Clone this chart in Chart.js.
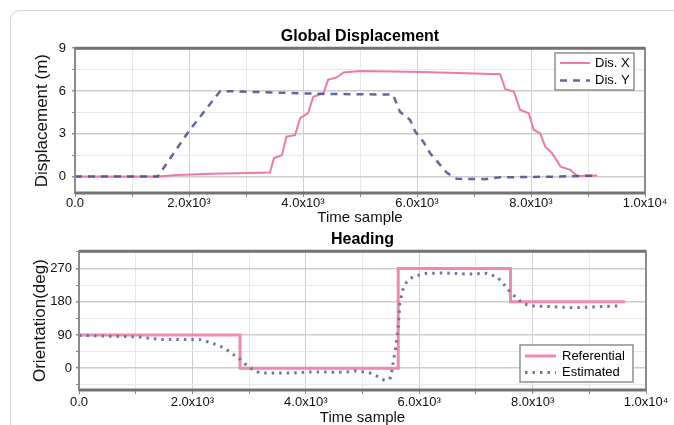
<!DOCTYPE html>
<html>
<head>
<meta charset="utf-8">
<script src="https://cdn.jsdelivr.net/npm/chart.js@4.4.0/dist/chart.umd.min.js"></script>
<style>
  html, body { margin: 0; padding: 0; background: #fff; overflow: hidden; }
  body { width: 674px; height: 425px; position: relative; }
  .card { position: absolute; left: 10px; top: 10px; width: 720px; height: 480px; border: 1px solid #d4d4d4; border-radius: 10px; }
  .plot { position: absolute; left: 0; width: 674px; }
</style>
</head>
<body>
<div class="card"></div>
<div class="plot" style="top:0;height:232px"><canvas id="dispChart"></canvas></div>
<div class="plot" style="top:225px;height:210px"><canvas id="headChart"></canvas></div>
<script>
const FONT = "'Liberation Sans', Arial, sans-serif";
Chart.defaults.font.family = FONT;
Chart.defaults.color = "#111";

// x axis: time samples
const xTicks = [0, 1000, 2000, 3000, 4000, 5000, 6000, 7000, 8000, 9000, 10000];
const xLabelValues = [0, 2000, 4000, 6000, 8000, 10000];
const xLabelText = ["0.0", "2.0x10³", "4.0x10³", "6.0x10³", "8.0x10³", "1.0x10⁴"];

// global displacement
const dispTicks = [0, 1.5, 3, 4.5, 6, 7.5, 9];
const dispLabels = [0, 3, 6, 9];
const disXTime = [0, 1450, 1800, 2400, 3000, 3420, 3490, 3630, 3710, 3860, 3950, 4090, 4180, 4360, 4440, 4590, 4710, 5000, 6100, 7460, 7550, 7700, 7810, 7960, 8050, 8160, 8250, 8370, 8520, 8690, 8810, 9160];
const disXValue = [0, 0, 0.12, 0.2, 0.25, 0.28, 1.3, 1.5, 2.8, 2.9, 4.1, 4.45, 5.6, 5.85, 6.78, 6.95, 7.3, 7.4, 7.33, 7.18, 6.12, 5.96, 4.67, 4.44, 3.27, 3.04, 2.1, 1.64, 0.7, 0.47, 0.05, 0.07];
const disYTime = [0, 1450, 2000, 2550, 3000, 4300, 5580, 5640, 5700, 5880, 5970, 6110, 6230, 6380, 6520, 6700, 7200, 7460, 8450, 9100];
const disYValue = [0, 0, 3.2, 6.0, 5.95, 5.8, 5.75, 5.14, 4.55, 3.97, 3.15, 2.45, 1.64, 0.94, 0.28, -0.16, -0.18, -0.05, 0, 0.07];

// heading
const headTicks = [-45, 0, 45, 90, 135, 180, 225, 270, 315];
const headLabels = [0, 90, 180, 270];
const refTime = [0, 2840, 2840, 5630, 5630, 7610, 7610, 9630];
const refValue = [90, 90, 0, 0, 270, 270, 180, 180];
const estTime = [0, 1020, 1430, 2130, 2310, 2490, 2600, 2690, 2810, 2900, 2990, 3070, 3190, 3780, 4070, 4660, 4900, 5130, 5250, 5400, 5500, 5540, 5590, 5630, 5660, 5710, 5780, 5900, 6130, 6490, 6840, 7190, 7370, 7480, 7600, 7720, 7840, 8010, 8720, 9570];
const estValue = [89, 85, 78, 78, 70, 60, 51, 40, 29, 15, 4.5, -4.5, -13, -13, -10, -11, -7, -13, -21, -34, -25, 15, 60, 113, 176, 212, 234, 249, 257, 258, 255, 257, 248, 230, 207, 190, 174, 169, 164, 169];

const pts = (xs, ys) => xs.map((x, i) => ({ x: x, y: ys[i] }));

// frame round the plot area
const plotFrame = {
  id: "plotFrame",
  afterDatasetsDraw(chart) {
    const { ctx, chartArea: a } = chart;
    ctx.save();
    ctx.strokeStyle = "#8c8c8c";
    ctx.lineWidth = 2;
    ctx.strokeRect(a.left, a.top, a.right - a.left, a.bottom - a.top);
    ctx.strokeStyle = "#737373";
    ctx.lineWidth = 3;
    ctx.beginPath();
    ctx.moveTo(a.left, a.top); ctx.lineTo(a.right, a.top);
    ctx.moveTo(a.left, a.bottom); ctx.lineTo(a.right, a.bottom);
    ctx.stroke();
    ctx.restore();
  }
};

// boxed legend inside the plot
const boxLegend = {
  id: "boxLegend",
  afterDatasetsDraw(chart, args, o) {
    const ctx = chart.ctx;
    ctx.save();
    ctx.fillStyle = "#fff";
    ctx.fillRect(o.x, o.y, o.w, o.h);
    ctx.strokeStyle = "#8f8f8f";
    ctx.lineWidth = 1.5;
    ctx.strokeRect(o.x, o.y, o.w, o.h);
    chart.data.datasets.forEach((ds, i) => {
      const y = o.y + o.first + i * o.gap;
      ctx.strokeStyle = ds.borderColor;
      ctx.lineWidth = ds.borderWidth;
      ctx.setLineDash(ds.borderDash || []);
      ctx.beginPath();
      ctx.moveTo(o.x + 5, y);
      ctx.lineTo(o.x + 5 + o.sample, y);
      ctx.stroke();
      ctx.setLineDash([]);
      ctx.fillStyle = "#000";
      ctx.font = "13px " + FONT;
      ctx.textBaseline = "middle";
      ctx.fillText(ds.label, o.x + o.textX, y);
    });
    ctx.restore();
  }
};

function makeScales(cfg) {
  return {
    x: {
      type: "linear",
      min: 0,
      max: 10000,
      afterBuildTicks: (a) => { a.ticks = xTicks.map((v) => ({ value: v })); },
      afterFit: (a) => { a.height = cfg.xHeight; },
      border: { display: false },
      grid: {
        color: (c) => (c.tick && c.tick.value % 2000 === 0 ? "#cfcfcf" : "#e8e8e8"),
        tickLength: 4,
        tickColor: "#8a8a8a"
      },
      ticks: {
        autoSkip: false,
        maxRotation: 0,
        padding: cfg.xTickPad,
        color: "#111",
        font: { size: 13 },
        callback: (v) => {
          const i = xLabelValues.indexOf(v);
          return i < 0 ? "" : xLabelText[i];
        }
      },
      title: { display: true, text: "Time sample", color: "#111", font: { size: 15 }, padding: { top: 0, bottom: cfg.xTitlePad } }
    },
    y: {
      type: "linear",
      min: cfg.yMin,
      max: cfg.yMax,
      afterBuildTicks: (a) => { a.ticks = cfg.yTicks.map((v) => ({ value: v })); },
      afterFit: (a) => { a.width = cfg.yWidth; },
      border: { display: false },
      grid: {
        color: (c) => (c.tick && cfg.yLabels.includes(c.tick.value) ? "#cdcdcd" : "#e8e8e8"),
        lineWidth: (c) => (c.tick && cfg.yLabels.includes(c.tick.value) ? 1.5 : 1),
        tickLength: 3,
        tickColor: "#8a8a8a"
      },
      ticks: {
        autoSkip: false,
        padding: cfg.yTickPad,
        color: "#111",
        font: { size: 13 },
        callback: (v) => (cfg.yLabels.includes(v) ? String(v) : "")
      },
      title: { display: true, text: cfg.yTitle, color: "#111", font: { size: 17 }, padding: { top: cfg.yTitlePad, bottom: 0 } }
    }
  };
}

new Chart(document.getElementById("dispChart"), {
  type: "line",
  data: {
    datasets: [
      {
        label: "Dis. X",
        data: pts(disXTime, disXValue),
        borderColor: "#ee7aa2",
        borderWidth: 2,
        pointRadius: 0,
        order: 2
      },
      {
        label: "Dis. Y",
        data: pts(disYTime, disYValue),
        borderColor: "rgba(70,76,140,0.85)",
        borderWidth: 2.5,
        borderDash: [7, 6],
        pointRadius: 0,
        order: 1
      }
    ]
  },
  options: {
    responsive: true,
    maintainAspectRatio: false,
    animation: false,
    layout: { padding: { left: 0, right: 29, top: 0, bottom: 0 } },
    scales: makeScales({
      yMin: -1.15, yMax: 9, yTicks: dispTicks, yLabels: dispLabels,
      yTitle: "Displacement (m)", yWidth: 75, yTickPad: 6, yTitlePad: 32,
      xHeight: 39, xTickPad: -1, xTitlePad: 5
    }),
    plugins: {
      legend: { display: false },
      tooltip: { enabled: false },
      title: { display: true, fullSize: false, text: "Global Displacement", color: "#000", font: { size: 16, weight: "bold" }, padding: { top: 27, bottom: 2 } },
      boxLegend: { x: 555, y: 53, w: 79, h: 37, first: 10, gap: 17.5, sample: 30, textX: 40 }
    }
  },
  plugins: [plotFrame, boxLegend]
});

new Chart(document.getElementById("headChart"), {
  type: "line",
  data: {
    datasets: [
      {
        label: "Referential",
        data: pts(refTime, refValue),
        borderColor: "#f288ae",
        borderWidth: 3,
        pointRadius: 0,
        order: 2
      },
      {
        label: "Estimated",
        data: pts(estTime, estValue),
        borderColor: "#72769a",
        borderWidth: 3,
        borderDash: [2.5, 5],
        pointRadius: 0,
        order: 1
      }
    ]
  },
  options: {
    responsive: true,
    maintainAspectRatio: false,
    animation: false,
    layout: { padding: { left: 0, right: 28, top: 0, bottom: 0 } },
    scales: makeScales({
      yMin: -59, yMax: 317, yTicks: headTicks, yLabels: headLabels,
      yTitle: "Orientation(deg)", yWidth: 79, yTickPad: 4, yTitlePad: 30,
      xHeight: 45, xTickPad: 1, xTitlePad: 8
    }),
    plugins: {
      legend: { display: false },
      tooltip: { enabled: false },
      title: { display: true, fullSize: false, text: "Heading", color: "#000", font: { size: 16, weight: "bold" }, padding: { top: 5, bottom: 2 } },
      boxLegend: { x: 520, y: 120, w: 113, h: 37, first: 11, gap: 16.5, sample: 31, textX: 42 }
    }
  },
  plugins: [plotFrame, boxLegend]
});
</script>
</body>
</html>
